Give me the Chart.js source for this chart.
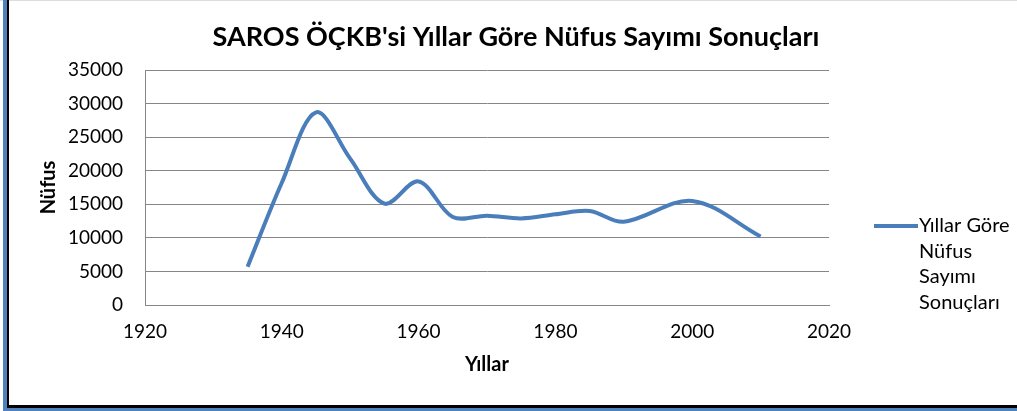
<!DOCTYPE html>
<html>
<head>
<meta charset="utf-8">
<script src="https://cdn.jsdelivr.net/npm/chart.js@4.4.0/dist/chart.umd.min.js"></script>
<style>
  html, body { margin: 0; padding: 0; background: #ffffff; }
  #wrap { width: 1017px; height: 411px; }
</style>
</head>
<body>
<div id="wrap"><canvas id="nufus-chart" width="1017" height="411"></canvas></div>
<script>
// Sayım yılları ve nüfus değerleri
const yillar = [1935, 1940, 1945, 1950, 1955, 1960, 1965, 1970, 1975, 1980, 1985, 1990, 2000, 2010];
const nufus = [5700, 18200, 28700, 21800, 15100, 18400, 13100, 13300, 12900, 13500, 14000, 12400, 15500, 10200];

const baslik = "SAROS ÖÇKB'si Yıllar Göre Nüfus Sayımı Sonuçları";
const seriAdi = ['Yıllar Göre', 'Nüfus', 'Sayımı', 'Sonuçları'];
const xBaslik = 'Yıllar';
const yBaslik = 'Nüfus';

const cizgiRengi = '#4a7ebb';
const fontAdi = 'Lato, "Open Sans", sans-serif';

// Başlık, lejant ve çerçeve için küçük eklenti
const cercevePlugin = {
    id: 'cerceve',
    afterDraw(chart) {
        const ctx = chart.ctx;
        ctx.save();
        // başlık
        ctx.fillStyle = '#000';
        ctx.font = 'bold 27px ' + fontAdi;
        ctx.textAlign = 'center';
        ctx.textBaseline = 'middle';
        ctx.fillText(baslik, 516, 37);

        // lejant
        ctx.strokeStyle = cizgiRengi;
        ctx.lineWidth = 4;
        ctx.beginPath();
        ctx.moveTo(874, 226);
        ctx.lineTo(918, 226);
        ctx.stroke();
        ctx.font = '20px ' + fontAdi;
        ctx.textAlign = 'left';
        seriAdi.forEach((s, i) => ctx.fillText(s, 919, 226 + i * 25.5));

        // çerçeve
        ctx.fillStyle = '#dddddd';
        ctx.fillRect(0, 0, 1017, 1);
        ctx.fillStyle = '#4f81bd';
        ctx.fillRect(3, 0, 4, 411);
        ctx.fillRect(3, 408, 1014, 3);
        ctx.fillStyle = '#000';
        ctx.fillRect(7, 0, 2, 408);
        ctx.fillRect(7, 405, 1010, 3);
        ctx.restore();
    }
};

const ctx = document.getElementById('nufus-chart').getContext('2d');
const myChart = new Chart(ctx, {
    type: 'line',
    data: {
        datasets: [{
            label: seriAdi.join(' '),
            data: yillar.map((y, i) => ({ x: y, y: nufus[i] })),
            borderColor: cizgiRengi,
            borderWidth: 4,
            pointRadius: 0,
            tension: 0.34,
            fill: false
        }]
    },
    options: {
        responsive: false,
        animation: false,
        layout: { padding: { left: 30, right: 188, top: 70, bottom: 0 } },
        plugins: {
            legend: { display: false },
            tooltip: { enabled: false }
        },
        scales: {
            x: {
                type: 'linear',
                min: 1920,
                max: 2020,
                ticks: {
                    stepSize: 20, padding: 15, color: '#000',
                    font: { family: fontAdi, size: 19 },
                    callback: (v) => String(v)
                },
                grid: { display: false, drawTicks: false },
                border: { color: '#868686', width: 1 },
                title: { display: true, text: xBaslik, color: '#000', font: { family: fontAdi, size: 20, weight: 'bold' }, padding: { bottom: 34 } },
                afterFit(s) { s.height = 106; }
            },
            y: {
                min: 0,
                max: 35000,
                ticks: {
                    stepSize: 5000, padding: 22, color: '#000',
                    font: { family: fontAdi, size: 19 },
                    callback: (v) => String(v)
                },
                grid: { color: '#868686', drawTicks: false },
                border: { color: '#868686', width: 1 },
                title: { display: true, text: yBaslik, color: '#000', font: { family: fontAdi, size: 20, weight: 'bold' }, padding: { top: 7 } },
                afterFit(s) { s.width = 115; }
            }
        }
    },
    plugins: [cercevePlugin]
});
</script>
</body>
</html>
